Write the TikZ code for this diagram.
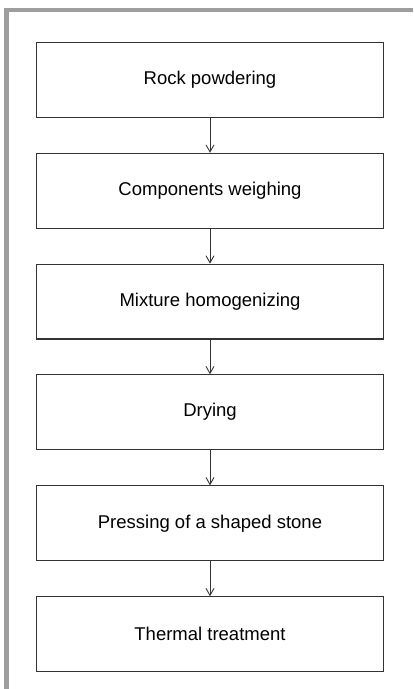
\documentclass[tikz,border=0pt]{standalone}
\usepackage{fontspec}
\setmainfont{Liberation Sans}
\usetikzlibrary{arrows.meta}
\begin{document}
\begin{tikzpicture}[x=1pt,y=-1pt,
  stepbox/.style={draw=black!80,line width=1.1pt,minimum width=346.6pt,minimum height=74.8pt,inner sep=0pt,font=\fontsize{18.5}{20}\selectfont,fill=white},
  flow/.style={draw=black!80,line width=1pt,-{Straight Barb[length=7pt,width=8pt,line width=0.9pt]}},
  frame/.style={draw=black!38,line width=4.6pt}]
\useasboundingbox (0,0) rectangle (413,689);
\fill[white] (0,0) rectangle (413,689);
\draw[frame] (6.5,689) -- (6.5,10) -- (413,10);
\node[stepbox] (s1) at (210,80) {Rock powdering};
\node[stepbox] (s2) at (210,190.7) {Components weighing};
\node[stepbox] (s3) at (210,301.6) {Mixture homogenizing};
\node[stepbox] (s4) at (210,412.2) {Drying};
\node[stepbox] (s5) at (210,523.3) {Pressing of a shaped stone};
\node[stepbox] (s6) at (210,634.2) {Thermal treatment};
\draw[flow] (s1) -- (s2);
\draw[flow] (s2) -- (s3);
\draw[flow] (s3) -- (s4);
\draw[flow] (s4) -- (s5);
\draw[flow] (s5) -- (s6);
\end{tikzpicture}
\end{document}
